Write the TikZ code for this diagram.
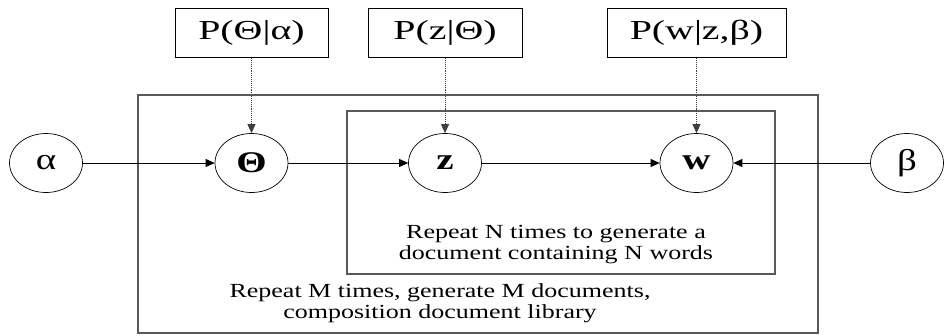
\documentclass[tikz,border=0pt]{standalone}
\usepackage{fontspec}
\setmainfont{Liberation Serif}[FakeStretch=1.3]
\newfontfamily\probfont{Liberation Serif}[FakeStretch=1.45]
\usetikzlibrary{positioning, shapes.geometric, arrows.meta}
\tikzset{
	node distance=75pt and 1.5cm,
	every text node part/.style= {
		align=center
	},
	var/.style= {
		ellipse,
		draw,
		line width=0.7pt,
		minimum width=73pt,
		minimum height=59pt,
		inner sep=0pt,
		font=\fontsize{30}{34}\selectfont
	},
	prob/.style= {
		rectangle,
		draw,
		line width=0.8pt,
		minimum height=49pt,
		inner sep=0pt,
		font=\probfont\fontsize{27.5}{32}\selectfont
	},
	plate/.style= {
		draw=black!65,
		line width=1.1pt,
		inner sep=0pt
	},
	note/.style= {
		font=\fontsize{20}{21}\selectfont
	},
	flow/.style= {
		line width=0.8pt,
		-{Triangle[length=9pt,width=8pt]}
	},
	given/.style= {
		black!75,
		line width=0.9pt,
		densely dotted,
		-{Triangle[length=9pt,width=8pt]}
	}
}

\begin{document}
\begin{tikzpicture}[x=1pt, y=-1pt]

	\useasboundingbox (0,0) rectangle (944,335);

	% plates
	\node (mplate)[plate, minimum width=680pt, minimum height=238pt] at (478,214) {};
	\node (nplate)[plate, minimum width=428pt, minimum height=163pt] at (561,192.5) {};

	\node (alpha)[var] at (46,163) {α};
	\node (theta)[var] at (251.5,163) {\bfseries Θ};
	\node (z)[var] at (445,163) {\bfseries z};
	\node (w)[var] at (696.5,163) {\bfseries w};
	\node (beta)[var] at (907,163) {β};

	\node (ptheta)[prob, minimum width=153pt, above= of theta] {P(Θ|α)};
	\node (pz)[prob, minimum width=154pt, above= of z] {P(z|Θ)};
	\node (pw)[prob, minimum width=179pt, above= of w] {P(w|z,β)};

	\node (nnote)[note] at (556,245) {Repeat N times to generate a\\document containing N words};
	\node (mnote)[note] at (440,303) {Repeat M times, generate M documents,\\composition document library};

	\draw[flow] (alpha) to (theta);
	\draw[flow] (theta) to (z);
	\draw[flow] (z) to (w);
	\draw[flow] (beta) to (w);

	\draw[given] (ptheta) to (theta);
	\draw[given] (pz) to (z);
	\draw[given] (pw) to (w);

\end{tikzpicture}
\end{document}
